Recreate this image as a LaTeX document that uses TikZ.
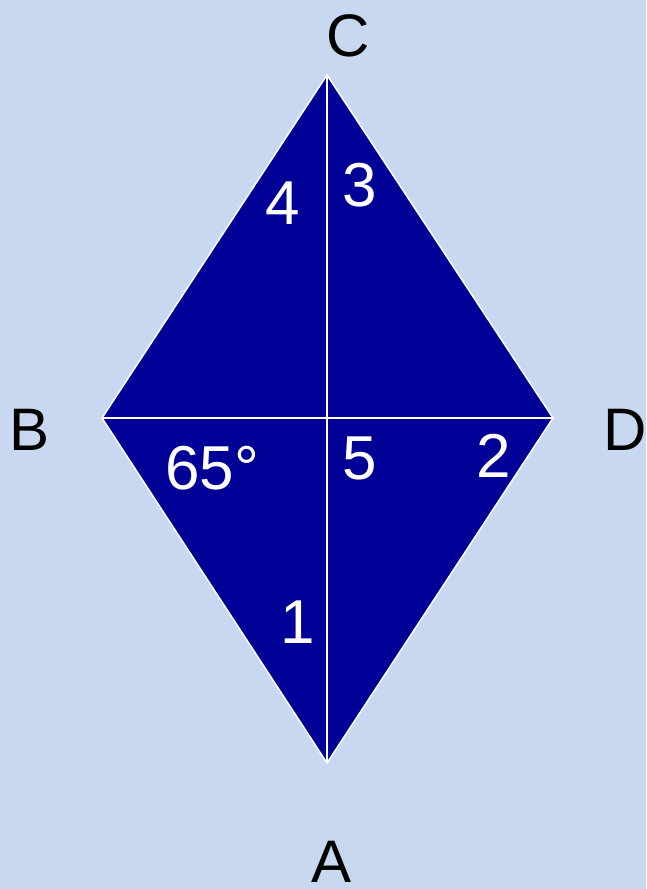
\documentclass[tikz,border=0pt]{standalone}
\usepackage{fontspec}
\setmainfont{Liberation Sans}
\definecolor{bgc}{RGB}{200,216,240}
\definecolor{rhomb}{RGB}{0,0,150}
\tikzset{
  vlabel/.style={text=black, font=\fontsize{60}{60}\selectfont, inner sep=0pt, anchor=center},
  nlabel/.style={text=white, font=\fontsize{62}{62}\selectfont, inner sep=0pt, anchor=center},
  diag/.style={draw=white, line width=2pt}
}
\begin{document}
\begin{tikzpicture}[x=1pt,y=-1pt]
\fill[bgc] (0,0) rectangle (646,889);
\useasboundingbox (0,0) rectangle (646,889);
\coordinate (C) at (327,75);
\coordinate (B) at (102,418);
\coordinate (D) at (553,418);
\coordinate (A) at (327,763);
\filldraw[fill=rhomb, draw=white, line width=1.5pt, line join=miter] (C) -- (D) -- (A) -- (B) -- cycle;
\draw[diag] (C) -- (A);
\draw[diag] (B) -- (D);
\node[vlabel] (lC) at (348,36) {C};
\node[vlabel] (lB) at (30,430) {B};
\node[vlabel] (lD) at (625,430) {D};
\node[vlabel] (lA) at (332,862) {A};
\node[nlabel] (n4) at (283,203) {4};
\node[nlabel] (n3) at (360,185) {3};
\node[nlabel] (n65) at (212,468) {65°};
\node[nlabel] (n5) at (360,458) {5};
\node[nlabel] (n2) at (494,456) {2};
\node[nlabel] (n1) at (298,622) {1};
\end{tikzpicture}
\end{document}
